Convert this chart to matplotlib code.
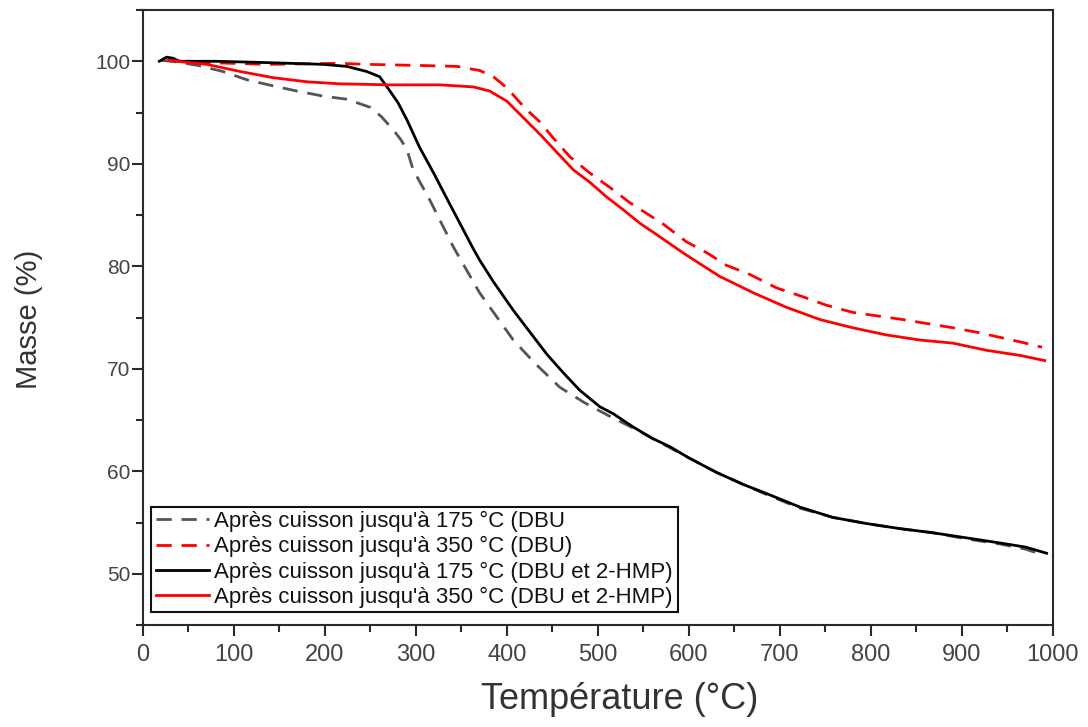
import matplotlib
matplotlib.use("Agg")
import matplotlib.pyplot as plt
from matplotlib.ticker import MultipleLocator

plt.rcParams['font.family'] = ['Liberation Sans', 'DejaVu Sans']

# --- Data ---
t_175_dbu = [20, 40, 60, 88, 114, 143, 169, 198, 224, 250, 262, 275, 283, 290, 297, 315, 341,
             370, 407, 430, 458, 485, 510, 539, 560, 600, 630, 660, 686, 722, 758, 795, 832,
             868, 905, 942, 970, 990]
m_175_dbu = [100.1, 99.9, 99.6, 99.0, 98.2, 97.6, 97.1, 96.6, 96.3, 95.5, 94.6, 93.3, 92.4,
             91.4, 89.4, 86.5, 81.9, 77.4, 72.8, 70.6, 68.2, 66.7, 65.5, 64.2, 63.2, 61.3,
             59.9, 58.7, 57.7, 56.4, 55.5, 54.9, 54.4, 54.0, 53.4, 52.9, 52.4, 51.8]

t_350_dbu = [30, 52, 99, 136, 216, 246, 300, 345, 370, 385, 396, 405, 414, 425, 436, 451, 469,
             491, 513, 535, 572, 597, 620, 641, 667, 696, 726, 751, 780, 835, 890, 920, 945,
             965, 988]
m_350_dbu = [100.1, 99.9, 99.8, 99.7, 99.8, 99.7, 99.6, 99.5, 99.1, 98.5, 97.7, 96.9, 96.0,
             95.0, 94.1, 92.5, 90.7, 89.1, 87.7, 86.2, 84.1, 82.4, 81.3, 80.1, 79.2, 77.9,
             77.0, 76.2, 75.5, 74.8, 74.0, 73.5, 73.0, 72.6, 72.1]

t_175_hmp = [18, 26, 33, 40, 80, 125, 162, 198, 224, 246, 260, 269, 280, 290, 304, 320, 334,
             350, 363, 370, 385, 407, 425, 444, 462, 480, 502, 517, 539, 560, 579, 600, 630,
             660, 686, 722, 758, 795, 832, 868, 905, 942, 970, 993]
m_175_hmp = [100.0, 100.4, 100.3, 100.0, 100.0, 99.9, 99.8, 99.7, 99.5, 99.0, 98.5, 97.4,
             96.0, 94.3, 91.6, 89.0, 86.6, 83.9, 81.7, 80.6, 78.5, 75.7, 73.6, 71.4, 69.6,
             67.9, 66.3, 65.6, 64.3, 63.2, 62.4, 61.3, 59.9, 58.7, 57.8, 56.5, 55.5, 54.9,
             54.4, 54.0, 53.5, 53.0, 52.6, 52.0]

t_350_hmp = [28, 37, 70, 107, 143, 180, 216, 271, 326, 363, 381, 400, 418, 436, 455, 473, 491,
             509, 528, 546, 561, 597, 634, 671, 707, 744, 780, 817, 854, 890, 927, 964, 991]
m_350_hmp = [100.1, 100.0, 99.7, 99.0, 98.4, 98.0, 97.8, 97.7, 97.7, 97.5, 97.1, 96.1, 94.5,
             92.9, 91.1, 89.4, 88.2, 86.8, 85.5, 84.2, 83.3, 81.1, 79.0, 77.4, 76.0, 74.8,
             74.0, 73.3, 72.8, 72.5, 71.8, 71.3, 70.8]

labels = ["Après cuisson jusqu'à 175 °C (DBU",
          "Après cuisson jusqu'à 350 °C (DBU)",
          "Après cuisson jusqu'à 175 °C (DBU et 2-HMP)",
          "Après cuisson jusqu'à 350 °C (DBU et 2-HMP)"]

fig = plt.figure(figsize=(10.88, 7.27), dpi=100)
ax = fig.add_axes([0.1314, 0.1403, 0.8364, 0.8459])

lw = 2.0
ax.plot(t_175_dbu, m_175_dbu, color='#555555', lw=lw, ls=(0, (5.5, 3.5)), label=labels[0])
ax.plot(t_350_dbu, m_350_dbu, color='#ff0000', lw=lw, ls=(0, (5.5, 3.5)), label=labels[1])
ax.plot(t_175_hmp, m_175_hmp, color='#000000', lw=lw, label=labels[2])
ax.plot(t_350_hmp, m_350_hmp, color='#ff0000', lw=lw, label=labels[3])

ax.set_xlim(0, 1000)
ax.set_ylim(45, 105)
ax.xaxis.set_major_locator(MultipleLocator(100))
ax.xaxis.set_minor_locator(MultipleLocator(50))
ax.yaxis.set_major_locator(MultipleLocator(10))
ax.yaxis.set_minor_locator(MultipleLocator(5))
ax.set_yticks([50, 60, 70, 80, 90, 100])

for s in ax.spines.values():
    s.set_linewidth(1.5)
    s.set_color('#2a2a2a')

ax.tick_params(which='major', direction='out', length=8, width=1.5, color='#2a2a2a',
               labelcolor='#444444')
ax.tick_params(which='minor', direction='out', length=5, width=1.5, color='#2a2a2a')
ax.tick_params(axis='x', which='major', labelsize=17, pad=6)
ax.tick_params(axis='y', which='major', labelsize=15, pad=1)
ax.tick_params(top=False, right=False)

ax.set_xlabel('Température (°C)', fontsize=26, color='#333333')
ax.set_ylabel('Masse (%)', fontsize=21, color='#333333')
ax.xaxis.set_label_coords(0.524, -0.093)
ax.yaxis.set_label_coords(-0.110, 0.497)

leg = ax.legend(loc='lower left', bbox_to_anchor=(0.009, 0.021), fontsize=16,
                frameon=True, fancybox=False, borderpad=0.2, labelspacing=0.18,
                handlelength=2.4, handletextpad=0.25, borderaxespad=0.0)
leg.get_frame().set_edgecolor('#111111')
leg.get_frame().set_linewidth(1.5)
leg.get_frame().set_alpha(1)
for txt in leg.get_texts():
    txt.set_color('#111111')

fig.savefig('out.png', dpi=100)
